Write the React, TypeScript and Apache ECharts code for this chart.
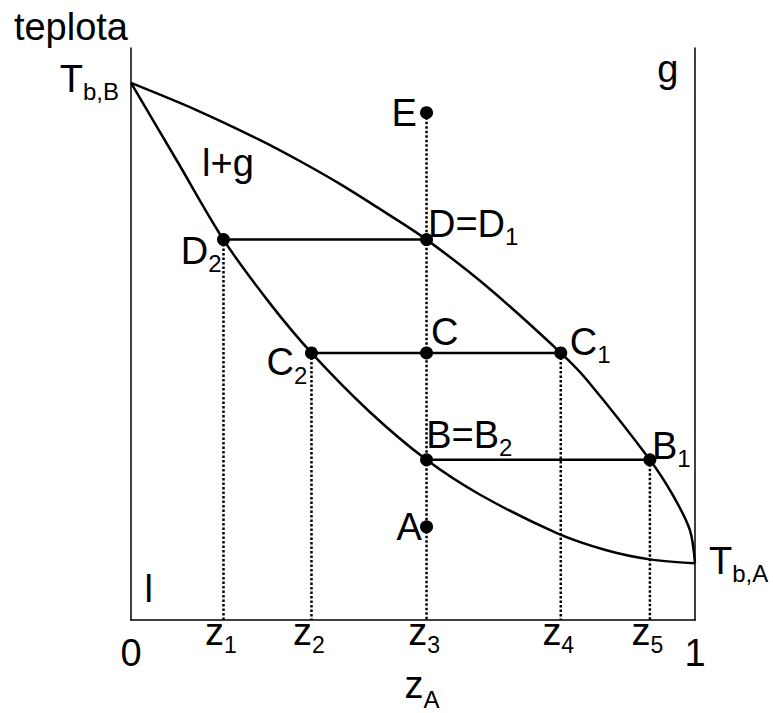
import React, { useEffect, useRef } from "react";
import * as echarts from "echarts";

const FONT = "'Liberation Sans', Arial, Helvetica, sans-serif";

// Composition z_A of the mixtures marked on the diagram
const zValues = [0.164, 0.32, 0.524, 0.762, 0.92];
const zIndexLabels = ["1", "2", "3", "4", "5"];

// Dew curve (vapour line): [z_A, temperature]
const dewCurve: [number, number][] = [
  [0, 93.9], [0.115, 89.2], [0.229, 83.9], [0.30, 80.2], [0.371, 76.2],
  [0.45, 71.3], [0.524, 66.5], [0.631, 58.3], [0.762, 46.7], [0.808, 42.0],
  [0.92, 28.0], [0.962, 21.6], [0.991, 15.7], [1, 9.9],
];

// Bubble curve (liquid line): [z_A, temperature]
const bubbleCurve: [number, number][] = [
  [0, 93.9], [0.082, 80.2], [0.164, 66.5], [0.246, 55.4], [0.32, 46.7],
  [0.422, 36.5], [0.524, 28.0], [0.619, 21.9], [0.755, 15.2], [0.843, 12.2],
  [0.92, 10.6], [1, 9.9],
];

// Marked states
const pointNames = ["E", "D", "D2", "C", "C2", "C1", "B", "B1", "A"];
const pointZ = [0.524, 0.524, 0.164, 0.524, 0.32, 0.762, 0.524, 0.92, 0.524];
const pointT = [88.7, 66.5, 66.5, 46.7, 46.7, 46.7, 28.0, 28.0, 16.3];
const pointText = [
  "{m|E}", "{m|D=D}{s|1}", "{m|D}{s|2}", "{m|C}", "{m|C}{s|2}",
  "{m|C}{s|1}", "{m|B=B}{s|2}", "{m|B}{s|1}", "{m|A}",
];

// Tie lines between coexisting phases, and composition drop lines
const tieLines = [["D2", "D"], ["C2", "C1"], ["B", "B1"]];
const dropLines = ["D2", "C2", "E", "C1", "B1"];

// Region names
const regionText = ["{m|g}", "{m|l+g}", "{m|l}"];

const ptIndex = (n: string) => pointNames.indexOf(n);
const pt = (n: string): [number, number] => [pointZ[ptIndex(n)], pointT[ptIndex(n)]];

const MAIN = 38;
const SUB = 24;
const rich = {
  m: { fontSize: MAIN, lineHeight: 40, fontFamily: FONT, color: "#000" },
  s: { fontSize: SUB, lineHeight: SUB, padding: [26, 0, 0, 0], fontFamily: FONT, color: "#000" },
  // compact subscript whose box stays within the main line box
  sn: { fontSize: SUB, lineHeight: 8, padding: [28, 0, 0, 0], fontFamily: FONT, color: "#000" },
  sz: { fontSize: SUB - 1, lineHeight: SUB, padding: [26, 5, 0, 0], fontFamily: FONT, color: "#000" },
  big: { fontSize: MAIN, lineHeight: 40, padding: [42, 0, 0, 0], fontFamily: FONT, color: "#000" },
};

// label placement: [dx, dy, align] relative to the point centre
const labelPlacement: Record<string, [number, number, "left" | "right"]> = {
  E: [-9.7, 0, "right"],
  D: [1.4, -15.8, "left"],
  D2: [-2, 11.2, "right"],
  C: [4.5, -21.2, "left"],
  C2: [-4.2, 9.5, "right"],
  C1: [9.1, -11.1, "left"],
  B: [-0.4, -25.1, "left"],
  B1: [2, -14, "left"],
  A: [-4.7, 0.5, "right"],
};
const regionAnchor: [number, number][] = [[0.933, 96.3], [0.126, 79.9], [0.024, 5.4]];

const DOT = 13;

export default function App() {
  const ref = useRef<HTMLDivElement>(null);

  useEffect(() => {
    if (!ref.current) return;
    const chart = echarts.init(ref.current, undefined, { renderer: "svg" });

    const blackLine = { color: "#000", width: 2.5, opacity: 1 };
    const series: any[] = [];

    series.push({
      type: "line", data: dewCurve, smooth: 0.3, showSymbol: false, silent: true,
      lineStyle: blackLine, z: 3,
    });
    series.push({
      type: "line", data: bubbleCurve, smooth: 0.3, showSymbol: false, silent: true,
      lineStyle: blackLine, z: 3,
    });
    tieLines.forEach(([a, b]) => {
      series.push({
        type: "line", data: [pt(a), pt(b)], showSymbol: false, silent: true,
        lineStyle: blackLine, z: 3,
      });
    });
    dropLines.forEach((n) => {
      const [z, t] = pt(n);
      series.push({
        type: "line", data: [[z, t], [z, 0]], showSymbol: false, silent: true,
        lineStyle: { color: "#000", width: 2.5, type: [2.5, 2] }, z: 2,
      });
    });

    series.push({
      type: "scatter", symbol: "circle", symbolSize: DOT, silent: true, z: 5,
      itemStyle: { color: "#000", opacity: 1 },
      data: pointNames.map((n, i) => {
        const [dx, dy, align] = labelPlacement[n];
        return {
          value: [pointZ[i], pointT[i]],
          label: {
            show: true, formatter: pointText[i], rich, color: "#000", opacity: 1,
            position: [DOT / 2 + dx, DOT / 2 + dy], align, verticalAlign: "middle",
          },
        };
      }),
    });

    // boiling points of the pure components and region names
    const first = dewCurve[0];
    const last = dewCurve[dewCurve.length - 1];
    const textPoints = [
      { value: first, label: { formatter: "{m|T}{s|b,B}", position: [0.5 - 12, 0.5 - 4], align: "right" } },
      { value: last, label: { formatter: "{m|T}{s|b,A}", position: [0.5 + 14, 0.5 - 2.8], align: "left" } },
      ...regionText.map((t, i) => ({
        value: regionAnchor[i], label: { formatter: t, position: [0.5, 0.5], align: "left" },
      })),
    ].map((d) => ({
      value: d.value,
      label: { show: true, rich, color: "#000", opacity: 1, verticalAlign: "middle", ...d.label },
    }));
    series.push({
      type: "scatter", symbolSize: 1, silent: true, z: 6,
      itemStyle: { color: "rgba(0,0,0,0)", opacity: 1 },
      data: textPoints,
    });

    const axisLine = { show: true, onZero: false, lineStyle: { color: "#000", width: 1.5 } };

    chart.setOption({
      animation: false,
      backgroundColor: "#fff",
      grid: { left: 131, right: 78, top: 48, bottom: 93, outerBoundsMode: "none", containLabel: false },
      xAxis: {
        type: "value", min: 0, max: 1,
        axisLine,
        axisTick: { show: false },
        splitLine: { show: false },
        axisLabel: {
          customValues: [0, ...zValues, 1],
          margin: 12,
          verticalAlign: "middle",
          rich,
          formatter: (v: number) => {
            if (v === 0) return "{big|0}";
            if (v === 1) return "{big|1}";
            const k = zValues.indexOf(v);
            return k >= 0 ? `{m|z}{sz|${zIndexLabels[k]}}` : "";
          },
        },
        name: "{m|z}{sn|A}",
        nameLocation: "middle",
        nameGap: 65,
        nameMoveOverlap: false,
        nameTextStyle: { rich, verticalAlign: "middle", padding: [0, 0, 0, 18] },
      },
      yAxis: [
        {
          type: "value", min: 0, max: 100, position: "left",
          axisLine, axisTick: { show: false }, axisLabel: { show: false },
          splitLine: { show: false },
          name: "teplota", nameLocation: "end", nameGap: 21,
          nameTextStyle: {
            fontSize: MAIN, fontFamily: FONT, color: "#000",
            align: "right", verticalAlign: "middle", padding: [0, 3, 0, 0],
          },
        },
        {
          type: "value", min: 0, max: 100, position: "right",
          axisLine, axisTick: { show: false }, axisLabel: { show: false },
          splitLine: { show: false },
        },
      ],
      series,
    });

    return () => chart.dispose();
  }, []);

  return (
    <div
      ref={ref}
      style={{ position: "absolute", left: 0, top: 0, width: 773, height: 713 }}
    />
  );
}
